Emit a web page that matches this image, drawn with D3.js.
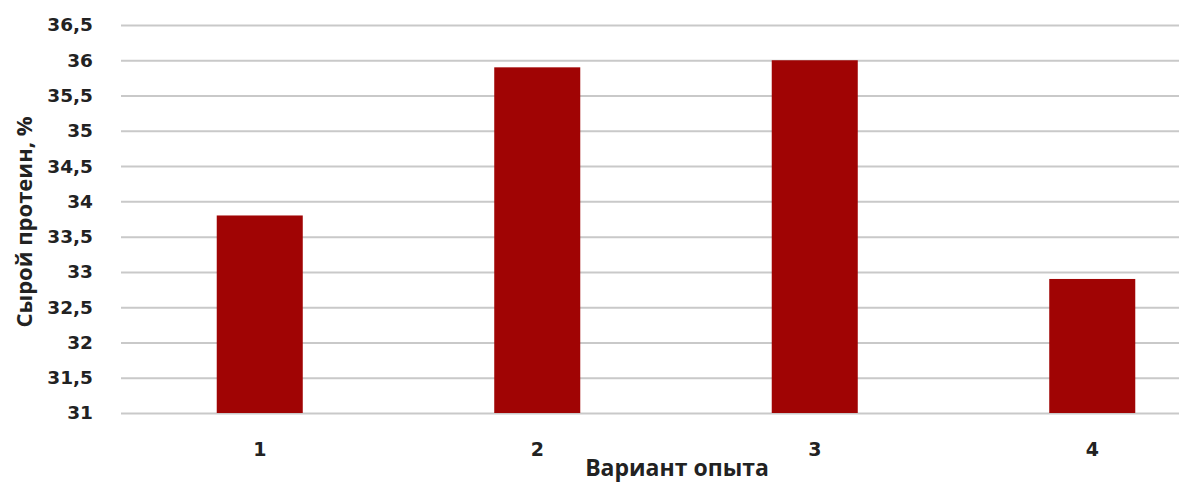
<!DOCTYPE html>
<html>
<head>
<meta charset="utf-8">
<script src="https://cdn.jsdelivr.net/npm/d3@7"></script>
<style>
  html, body { margin: 0; padding: 0; background: #fff; }
  svg { display: block; }
  text { font-weight: 700; fill: #222; }
  .num { font-family: "DejaVu Sans", "Open Sans", sans-serif; }
  .title { font-family: "Open Sans", "DejaVu Sans", sans-serif; }
</style>
</head>
<body>
<svg id="chart" width="1179" height="483"></svg>
<script>
// Crude protein content by experiment variant
const variants = ["1", "2", "3", "4"];
const protein = [33.8, 35.9, 36.0, 32.9];
const yTicks = [31, 31.5, 32, 32.5, 33, 33.5, 34, 34.5, 35, 35.5, 36, 36.5];
const yTitle = "Сырой протеин, %";
const xTitle = "Вариант опыта";

const svg = d3.select("#chart");

const plot = { left: 121, right: 1231, top: 25, bottom: 413 };

const x = d3.scaleBand()
  .domain(variants)
  .range([plot.left, plot.right])
  .paddingInner(0.69)
  .paddingOuter(0.345);

const y = d3.scaleLinear()
  .domain([31, 36.5])
  .range([plot.bottom, plot.top]);

const fmt = v => String(v).replace(".", ",");

// Horizontal gridlines with tick labels
const yAxis = d3.axisLeft(y)
  .tickValues(yTicks)
  .tickSize(-(plot.right - plot.left))
  .tickPadding(28)
  .tickFormat(fmt);

const gy = svg.append("g")
  .attr("transform", `translate(${plot.left},0)`)
  .call(yAxis);
gy.select(".domain").remove();
gy.selectAll(".tick line").attr("stroke", "#c9c9c9").attr("stroke-width", 2);
gy.selectAll(".tick text")
  .attr("class", "num")
  .attr("font-size", 18.5)
  .attr("font-family", null)
  .style("fill", "#222");

// Bars
svg.append("g").selectAll("rect")
  .data(variants.map((v, i) => ({ v, p: protein[i] })))
  .join("rect")
  .attr("x", d => x(d.v))
  .attr("width", x.bandwidth())
  .attr("y", d => y(d.p))
  .attr("height", d => y(31) - y(d.p))
  .attr("fill", "#a00404");

// Category labels
const xAxis = d3.axisBottom(x).tickSize(0).tickPadding(30);
const gx = svg.append("g")
  .attr("transform", `translate(0,${plot.bottom})`)
  .call(xAxis);
gx.select(".domain").remove();
gx.selectAll(".tick text")
  .attr("class", "num")
  .attr("font-size", 19)
  .attr("font-family", null)
  .style("fill", "#222");

// Axis titles
svg.append("text")
  .attr("class", "title")
  .attr("x", 677)
  .attr("y", 476)
  .attr("text-anchor", "middle")
  .attr("font-size", 23)
  .text(xTitle);

svg.append("text")
  .attr("class", "title")
  .attr("transform", "translate(32,222) rotate(-90)")
  .attr("text-anchor", "middle")
  .attr("font-size", 22)
  .text(yTitle);
</script>
</body>
</html>
